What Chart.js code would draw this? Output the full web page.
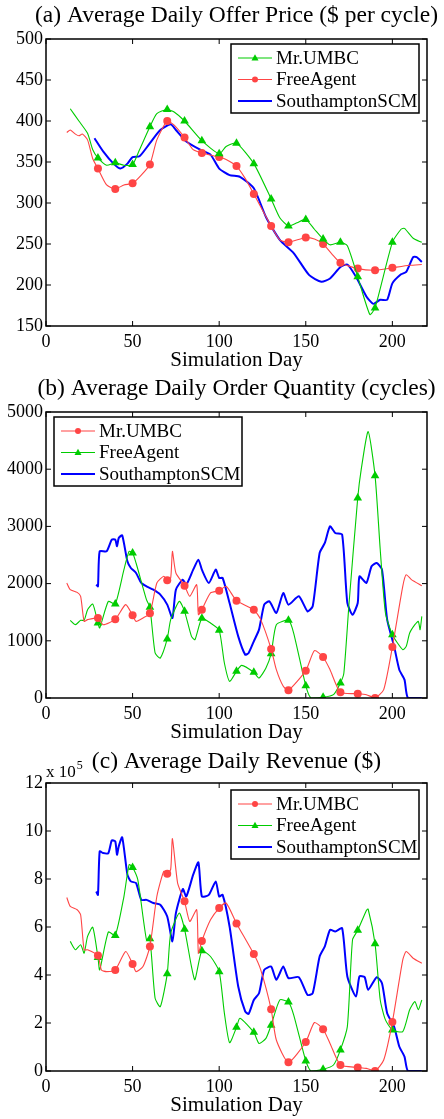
<!DOCTYPE html>
<html lang="en">
<head>
<meta charset="UTF-8" />
<title>Agent comparison</title>
<script src="https://cdn.jsdelivr.net/npm/chart.js"></script>
<style>
  body { margin: 0; background: #fff; }
  #wrap { position: relative; width: 444px; height: 1119px; }
  canvas { position: absolute; left: 0; }
</style>
</head>
<body>
<div id="wrap">
  <canvas id="priceChart" width="444" height="375" style="top:0"></canvas>
  <canvas id="qtyChart" width="444" height="380" style="top:370px"></canvas>
  <canvas id="revChart" width="444" height="379" style="top:740px"></canvas>
</div>
<script>
// ---- data ----
const markerDays = [30, 40, 50, 60, 70, 80, 90, 100, 110, 120, 130, 140, 150, 160, 170, 180, 190, 200];
const xTicks = [0, 50, 100, 150, 200];

// (a) offer price, $ per cycle
const priceTicks = [150, 200, 250, 300, 350, 400, 450, 500];
const priceUmbcDays = [14, 19, 24, 27, 30, 35, 40, 45, 50, 54, 60, 64, 70, 74, 80, 90, 100, 104, 110, 120, 130, 135, 140, 145, 150, 155, 160, 164, 170, 174, 180, 187, 190, 200, 205, 207, 212, 217];
const priceUmbc = [415, 400, 385, 365, 355, 346, 349, 346, 347, 365, 393, 409, 414, 411, 400, 376, 360, 369, 373, 348, 305, 282, 272, 276, 280, 268, 256, 249, 252, 248, 210, 164, 172, 252, 268, 269, 257, 252];
const priceFreeDays = [12, 14, 17, 19, 21, 24, 27, 30, 35, 40, 45, 50, 55, 60, 64, 70, 74, 80, 85, 90, 100, 104, 110, 115, 120, 130, 135, 140, 150, 155, 160, 165, 170, 180, 190, 200, 210, 217];
const priceFree = [386, 389, 384, 382, 384, 377, 354, 342, 322, 317, 322, 324, 334, 347, 377, 400, 395, 380, 365, 361, 356, 353, 345, 330, 311, 272, 255, 252, 258, 256, 250, 238, 227, 220, 218, 221, 224, 225];
const priceSouthDays = [28, 33, 39, 43, 47, 50, 54, 60, 66, 72, 75, 81, 89, 95, 100, 106, 112, 120, 127, 135, 143, 152, 159, 164, 170, 174, 179, 185, 189, 193, 197, 200, 205, 208, 212, 214, 217];
const priceSouth = [379, 363, 348, 342, 348, 356, 357, 373, 389, 396, 389, 375, 365, 359, 342, 334, 332, 318, 283, 255, 239, 212, 204, 208, 222, 225, 210, 186, 177, 182, 182, 202, 213, 216, 234, 234, 228];

// (b) order quantity, cycles
const qtyTicks = [0, 1000, 2000, 3000, 4000, 5000];
const qtyUmbcDays = [12, 14, 18, 20, 22, 24, 30, 33, 40, 46, 50, 52, 56, 60, 64, 68, 70, 72, 73, 75, 80, 83, 87, 88, 90, 95, 100, 104, 110, 120, 124, 130, 133, 137, 140, 150, 155, 160, 164, 170, 180, 185, 190, 195, 200, 206, 208, 211, 217];
const qtyUmbc = [2011, 1894, 1847, 1778, 1340, 1370, 1399, 1282, 1375, 1632, 1445, 1340, 1399, 1480, 2011, 2127, 2057, 2100, 2564, 2186, 1964, 1778, 1982, 1457, 1544, 1836, 1877, 1952, 1702, 1544, 1370, 857, 495, 204, 134, 478, 828, 717, 495, 99, 76, 58, 0, 146, 892, 1952, 2156, 2069, 1964];
const qtyFreeDays = [14, 17, 20, 22, 24, 27, 30, 31, 36, 40, 45, 48, 50, 52, 58, 60, 63, 66, 70, 72, 77, 80, 84, 86, 90, 95, 100, 103, 106, 110, 113, 120, 123, 127, 130, 133, 140, 143, 150, 153, 160, 166, 170, 172, 175, 180, 182, 186, 190, 193, 196, 200, 206, 208, 210, 213, 215, 216, 217];
const qtyFree = [1358, 1282, 1358, 1358, 1544, 1643, 1311, 1224, 1690, 1643, 2244, 2564, 2535, 2360, 1719, 1585, 787, 699, 1032, 1370, 1690, 1515, 1078, 1020, 1393, 1311, 1183, 612, 291, 466, 571, 449, 350, 524, 775, 1282, 1358, 1136, 216, 0, 12, 58, 262, 437, 1661, 3497, 3992, 4657, 3887, 2593, 1486, 1107, 845, 903, 1136, 1282, 1340, 1195, 1428];
const qtySouthDays = [29, 30, 31, 35, 38, 40, 41, 42, 44, 47, 49, 52, 55, 58, 62, 66, 70, 73, 75, 79, 81, 85, 88, 90, 94, 98, 100, 102, 106, 111, 115, 117, 120, 123, 126, 129, 133, 137, 140, 146, 151, 154, 158, 161, 164, 167, 171, 174, 177, 180, 181, 185, 188, 191, 194, 197, 201, 204, 207, 209, 217];
const qtySouth = [1982, 1952, 2564, 2564, 2768, 2768, 2652, 2797, 2844, 2389, 2273, 2186, 2011, 1952, 1894, 1807, 1632, 1399, 1894, 2069, 1982, 2244, 2419, 2244, 2011, 2244, 2098, 2098, 1661, 1078, 758, 787, 991, 1195, 1632, 1690, 1486, 1836, 1632, 1778, 1515, 1603, 2535, 2710, 3001, 2885, 2856, 1661, 1457, 1661, 2127, 2011, 2302, 2360, 2244, 1370, 903, 495, 321, 0, 0];

// (c) revenue, in units of 10^5 $
const revTicks = [0, 2, 4, 6, 8, 10, 12];
const revUmbcDays = [12, 14, 18, 20, 22, 24, 30, 32, 35, 40, 46, 50, 52, 56, 60, 64, 68, 70, 72, 73, 76, 80, 83, 87, 88, 90, 95, 100, 104, 110, 120, 124, 130, 133, 140, 150, 155, 160, 164, 170, 180, 185, 190, 195, 200, 206, 208, 212, 217];
const revUmbc = [7.23, 6.86, 6.72, 6.51, 5.05, 5.05, 4.81, 4.21, 4.14, 4.21, 4.98, 4.46, 4.14, 4.35, 5.19, 7.27, 8.32, 8.22, 8.4, 9.68, 7.83, 7.07, 6.23, 6.72, 4.91, 5.42, 6.30, 6.79, 7.00, 6.15, 4.87, 4.21, 2.57, 1.29, 0.36, 1.21, 2.02, 1.74, 1.15, 0.25, 0.15, 0.11, 0, 0.46, 2.04, 4.63, 4.98, 4.70, 4.49];
const revFreeDays = [14, 17, 20, 22, 24, 27, 30, 31, 36, 40, 45, 48, 50, 53, 58, 60, 63, 66, 70, 72, 77, 80, 84, 86, 90, 95, 100, 103, 106, 110, 112, 120, 123, 127, 130, 135, 140, 143, 150, 153, 160, 166, 170, 174, 177, 180, 185, 186, 190, 193, 196, 200, 206, 210, 213, 215, 217];
const revFree = [5.40, 5.05, 5.26, 4.91, 5.61, 5.99, 4.73, 4.21, 5.79, 5.65, 7.27, 8.60, 8.48, 7.97, 5.47, 5.51, 3.03, 2.68, 4.05, 5.74, 6.58, 5.91, 4.35, 3.80, 5.01, 4.77, 4.14, 2.41, 1.18, 1.82, 2.20, 1.61, 1.15, 1.36, 1.91, 2.96, 2.87, 2.34, 0.42, 0, 0.07, 0.25, 0.88, 1.85, 5.47, 5.86, 6.69, 6.75, 5.30, 2.96, 2.13, 1.71, 1.64, 2.55, 2.89, 2.55, 2.96];
const revSouthDays = [29, 30, 31, 33, 36, 38, 40, 41, 42, 44, 47, 49, 52, 55, 58, 62, 66, 70, 73, 75, 79, 81, 85, 88, 90, 94, 98, 100, 102, 106, 111, 115, 117, 120, 123, 126, 130, 133, 137, 140, 146, 151, 154, 158, 161, 164, 167, 171, 174, 179, 181, 184, 186, 191, 194, 197, 201, 204, 207, 209, 217];
const revSouth = [7.48, 7.34, 9.15, 9.08, 9.08, 9.61, 9.57, 9.01, 9.36, 9.74, 8.18, 7.90, 7.83, 7.13, 7.13, 7.00, 6.93, 6.44, 5.40, 6.58, 7.58, 7.27, 8.18, 8.69, 7.27, 7.34, 7.90, 7.27, 7.34, 6.02, 3.52, 2.48, 2.38, 2.96, 3.24, 4.21, 4.35, 3.80, 4.35, 3.87, 3.91, 3.17, 3.24, 4.77, 5.19, 5.88, 5.81, 5.95, 3.94, 3.10, 3.94, 3.91, 3.38, 3.91, 3.66, 2.41, 1.85, 1.02, 0.60, 0, 0];

// ---- styling ----
const GREEN = "#00cc00";
const RED = "#ff4545";
const BLUE = "#0000ff";
const SERIF = "'Liberation Serif', 'Times New Roman', serif";

function series(label, days, values, color, style) {
  const plain = style === "line";
  const r = style === "triangle" ? 5 : 4;
  return {
    label: label,
    data: days.map((d, i) => ({ x: d, y: values[i] })),
    borderColor: color,
    backgroundColor: color,
    borderWidth: plain ? 2 : 1.1,
    pointStyle: plain ? "circle" : style,
    pointRadius: (c) => (!plain && markerDays.includes(days[c.dataIndex]) ? r : 0),
    pointBorderWidth: 0,
    pointHoverRadius: 0,
    tension: 0.2,
    legendStyle: style,
  };
}

function drawMarker(ctx, style, x, y, r) {
  ctx.beginPath();
  if (style === "circle") {
    ctx.arc(x, y, r, 0, Math.PI * 2);
  } else {
    ctx.moveTo(x, y - r * 1.1);
    ctx.lineTo(x + r, y + r * 0.7);
    ctx.lineTo(x - r, y + r * 0.7);
    ctx.closePath();
  }
  ctx.fill();
}

// Matlab-like box, inward ticks, title and legend drawn inside the plot
const framePlugin = {
  id: "frame",
  afterDraw(chart, args, opts) {
    const { ctx, chartArea: a, scales } = chart;
    ctx.save();
    ctx.strokeStyle = "#000";
    ctx.lineWidth = 1;
    const t = 5;
    const seg = (x1, y1, x2, y2) => {
      ctx.beginPath(); ctx.moveTo(x1, y1); ctx.lineTo(x2, y2); ctx.stroke();
    };
    scales.x.ticks.forEach((tk) => {
      const px = scales.x.getPixelForValue(tk.value);
      seg(px, a.bottom, px, a.bottom - t);
      seg(px, a.top, px, a.top + t);
    });
    scales.y.ticks.forEach((tk) => {
      const py = scales.y.getPixelForValue(tk.value);
      seg(a.left, py, a.left + t, py);
      seg(a.right, py, a.right - t, py);
    });
    ctx.lineWidth = 1.5;
    ctx.strokeRect(a.left, a.top, a.right - a.left, a.bottom - a.top);

    // title
    ctx.fillStyle = "#000";
    ctx.font = "23.5px " + SERIF;
    ctx.textAlign = "center";
    ctx.textBaseline = "middle";
    ctx.fillText(opts.title, (a.left + a.right) / 2, opts.titleY);

    // exponent label
    if (opts.exponent) {
      ctx.textAlign = "left";
      ctx.textBaseline = "alphabetic";
      ctx.font = "17px " + SERIF;
      const base = "x 10";
      ctx.fillText(base, 46, a.top - 6);
      const w = ctx.measureText(base).width;
      ctx.font = "12px " + SERIF;
      ctx.fillText(opts.exponent, 46 + w + 1, a.top - 14);
    }

    // legend
    const lg = opts.legend;
    ctx.fillStyle = "#fff";
    ctx.fillRect(lg.x, lg.y, 188, 69);
    ctx.strokeStyle = "#000";
    ctx.lineWidth = 1.5;
    ctx.strokeRect(lg.x, lg.y, 188, 69);
    ctx.font = "19px " + SERIF;
    ctx.textAlign = "left";
    ctx.textBaseline = "middle";
    chart.data.datasets.forEach((ds, i) => {
      const cy = lg.y + 14 + i * 21.5;
      ctx.strokeStyle = ds.borderColor;
      ctx.lineWidth = ds.borderWidth;
      seg(lg.x + 7, cy, lg.x + 41, cy);
      if (ds.legendStyle !== "line") {
        ctx.fillStyle = ds.borderColor;
        drawMarker(ctx, ds.legendStyle, lg.x + 24, cy, ds.legendStyle === "triangle" ? 3.5 : 3);
      }
      ctx.fillStyle = "#000";
      ctx.fillText(ds.label, lg.x + 45, cy + 1);
    });
    ctx.restore();
  },
};

function makeChart(id, datasets, cfg) {
  const h = document.getElementById(id).height;
  const tickFont = { family: SERIF, size: 18, lineHeight: 1 };
  return new Chart(document.getElementById(id), {
    type: "line",
    data: { datasets: datasets },
    options: {
      responsive: false,
      animation: false,
      events: [],
      layout: { padding: { top: cfg.top, left: 0, right: 17, bottom: 0 } },
      scales: {
        x: {
          type: "linear",
          min: 0,
          max: 220,
          grid: { display: false, drawTicks: false },
          border: { display: false },
          afterBuildTicks: (s) => { s.ticks = xTicks.map((v) => ({ value: v })); },
          afterFit: (s) => { s.height = h - cfg.bottom; },
          ticks: { color: "#000", padding: 7, font: tickFont, callback: (v) => String(v) },
          title: {
            display: true,
            text: "Simulation Day",
            color: "#000",
            font: { family: SERIF, size: 21, lineHeight: 1 },
            padding: { top: 0, bottom: h - cfg.xTitleY - 10.5 },
          },
        },
        y: {
          min: cfg.yTicks[0],
          max: cfg.yTicks[cfg.yTicks.length - 1],
          grid: { display: false, drawTicks: false },
          border: { display: false },
          afterBuildTicks: (s) => { s.ticks = cfg.yTicks.map((v) => ({ value: v })); },
          afterFit: (s) => { s.width = 46; },
          ticks: { color: "#000", padding: 3, font: tickFont, callback: (v) => String(v) },
        },
      },
      plugins: {
        legend: { display: false },
        tooltip: { enabled: false },
        frame: cfg.frame,
      },
    },
    plugins: [framePlugin],
  });
}

makeChart("priceChart", [
  series("Mr.UMBC", priceUmbcDays, priceUmbc, GREEN, "triangle"),
  series("FreeAgent", priceFreeDays, priceFree, RED, "circle"),
  series("SouthamptonSCM", priceSouthDays, priceSouth, BLUE, "line"),
], {
  top: 39, bottom: 326, xTitleY: 360, yTicks: priceTicks,
  frame: { title: "(a) Average Daily Offer Price ($ per cycle)", titleY: 16, legend: { x: 231, y: 44 } },
});

makeChart("qtyChart", [
  series("Mr.UMBC", qtyUmbcDays, qtyUmbc, RED, "circle"),
  series("FreeAgent", qtyFreeDays, qtyFree, GREEN, "triangle"),
  series("SouthamptonSCM", qtySouthDays, qtySouth, BLUE, "line"),
], {
  top: 42, bottom: 328, xTitleY: 362, yTicks: qtyTicks,
  frame: { title: "(b) Average Daily Order Quantity (cycles)", titleY: 19, legend: { x: 54, y: 47 } },
});

makeChart("revChart", [
  series("Mr.UMBC", revUmbcDays, revUmbc, RED, "circle"),
  series("FreeAgent", revFreeDays, revFree, GREEN, "triangle"),
  series("SouthamptonSCM", revSouthDays, revSouth, BLUE, "line"),
], {
  top: 43, bottom: 331, xTitleY: 365, yTicks: revTicks,
  frame: { title: "(c) Average Daily Revenue ($)", titleY: 22, legend: { x: 231, y: 50 }, exponent: "5" },
});
</script>
</body>
</html>
